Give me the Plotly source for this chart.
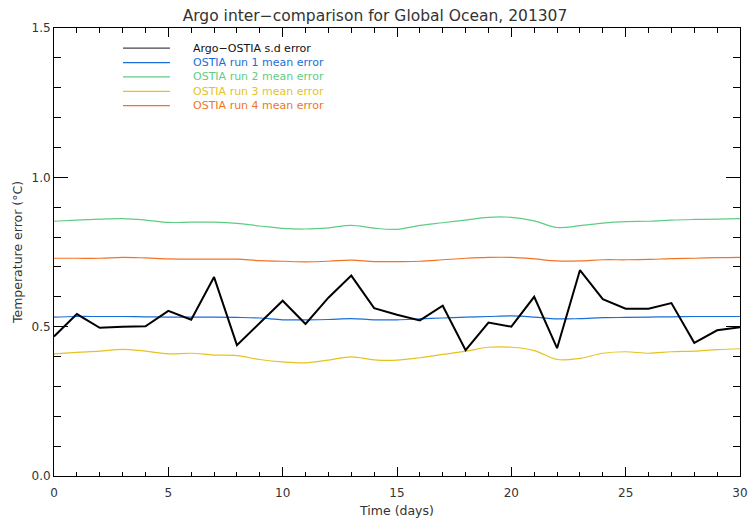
import plotly.graph_objects as go

days = list(range(31))

argo_sd = [0.467, 0.542, 0.496, 0.500, 0.501, 0.553, 0.523, 0.666, 0.438, 0.512,
           0.587, 0.509, 0.597, 0.671, 0.562, 0.540, 0.521, 0.570, 0.421, 0.514,
           0.500, 0.600, 0.428, 0.689, 0.592, 0.560, 0.560, 0.579, 0.446, 0.488, 0.498]

run1 = [0.532, 0.534, 0.534, 0.534, 0.533, 0.532, 0.532, 0.532, 0.531, 0.529,
        0.523, 0.523, 0.524, 0.527, 0.523, 0.523, 0.526, 0.529, 0.532, 0.534,
        0.536, 0.532, 0.526, 0.527, 0.530, 0.531, 0.532, 0.533, 0.534, 0.534, 0.534]

run2 = [0.853, 0.857, 0.860, 0.862, 0.857, 0.849, 0.850, 0.850, 0.846, 0.837,
        0.829, 0.827, 0.831, 0.839, 0.830, 0.826, 0.839, 0.848, 0.857, 0.866,
        0.866, 0.854, 0.832, 0.838, 0.847, 0.852, 0.853, 0.857, 0.859, 0.860, 0.862]

run3 = [0.409, 0.414, 0.418, 0.424, 0.418, 0.409, 0.411, 0.405, 0.403, 0.390,
        0.382, 0.379, 0.388, 0.399, 0.389, 0.388, 0.396, 0.407, 0.418, 0.431,
        0.431, 0.420, 0.390, 0.394, 0.411, 0.416, 0.411, 0.416, 0.418, 0.423, 0.426]

run4 = [0.729, 0.729, 0.729, 0.732, 0.730, 0.727, 0.726, 0.726, 0.726, 0.721,
        0.719, 0.717, 0.719, 0.723, 0.718, 0.718, 0.719, 0.724, 0.729, 0.732,
        0.732, 0.727, 0.720, 0.720, 0.724, 0.724, 0.725, 0.728, 0.729, 0.731, 0.732]

series_names = ["Argo\u2212OSTIA s.d error", "OSTIA run 1 mean error", "OSTIA run 2 mean error",
                "OSTIA run 3 mean error", "OSTIA run 4 mean error"]
series_values = [argo_sd, run1, run2, run3, run4]
series_colors = ["#000000", "#1a6ed8", "#5fcc85", "#e6c21e", "#f07424"]
series_widths = [2, 1.2, 1.2, 1.2, 1.2]
series_shapes = ["linear", "spline", "spline", "spline", "spline"]

title_text = "Argo inter\u2212comparison for Global Ocean, 201307"
x_title = "Time (days)"
y_title = "Temperature error (\u00b0C)"

font_family = "DejaVu Sans"
txt_color = "#333333"

fig = go.Figure()
# draw coloured runs first, black on top
order = [1, 2, 3, 4, 0]
for i in order:
    fig.add_trace(go.Scatter(
        x=days, y=series_values[i], mode="lines", name=series_names[i],
        line=dict(color=series_colors[i], width=series_widths[i], shape=series_shapes[i]),
        showlegend=False, hoverinfo="skip"))

# manual legend (compact spacing as in the reference)
leg_x0, leg_x1, leg_tx = 0.1006, 0.169, 0.201
leg_y0, leg_dy = 0.955, 0.0321
for k, (nm, col) in enumerate(zip(series_names, series_colors)):
    yy = leg_y0 - k * leg_dy
    fig.add_shape(type="line", xref="paper", yref="paper", x0=leg_x0, x1=leg_x1, y0=yy, y1=yy,
                  line=dict(color=col if k else "#444444", width=1.2))
    fig.add_annotation(xref="paper", yref="paper", x=leg_tx, y=yy, text=nm, showarrow=False,
                       xanchor="left", yanchor="middle", borderpad=0,
                       font=dict(family=font_family, size=11, color=col if k else "#111111"))

axis_common = dict(showline=True, linecolor="black", linewidth=1, mirror="ticks",
                   ticks="inside", tickcolor="black", showgrid=False, zeroline=False,
                   automargin=False,
                   tickfont=dict(family=font_family, size=12, color=txt_color))

fig.update_xaxes(range=[0, 30], dtick=5, tick0=0, ticklen=9, ticklabelstandoff=6,
                 minor=dict(ticks="inside", dtick=1, ticklen=4.5, tickcolor="black", showgrid=False),
                 title=dict(text=x_title, font=dict(family=font_family, size=12.5, color=txt_color), standoff=6),
                 **axis_common)
fig.update_yaxes(range=[0, 1.5], dtick=0.5, tick0=0, ticklen=14, tickformat=".1f",
                 minor=dict(ticks="inside", dtick=0.1, ticklen=7, tickcolor="black", showgrid=False),
                 title=dict(text=y_title, font=dict(family=font_family, size=12.5, color=txt_color), standoff=6),
                 **axis_common)

fig.update_layout(
    width=750, height=520,
    margin=dict(l=54, r=10, t=28, b=44),
    paper_bgcolor="white", plot_bgcolor="white",
    title=dict(text=title_text, x=0.5, xanchor="center", y=0.97, yanchor="middle",
               font=dict(family=font_family, size=15.5, color=txt_color)),
    showlegend=False,
)

fig.write_html("out.html")
